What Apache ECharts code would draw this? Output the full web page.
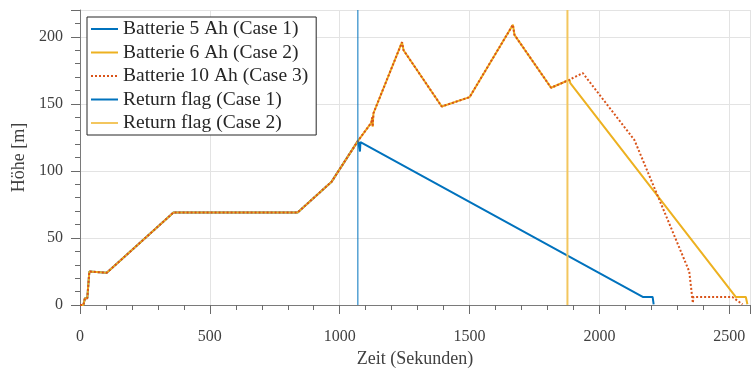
<!DOCTYPE html>
<html>
<head>
<meta charset="utf-8">
<script src="https://cdn.jsdelivr.net/npm/echarts@6/dist/echarts.min.js"></script>
<style>
  html, body { margin: 0; padding: 0; background: #fff; }
  #main { width: 751px; height: 372px; }
</style>
</head>
<body>
<div id="main"></div>
<script>
// shared climb profile (all cases fly the same path until the return)
const commonPath = [
  [0, 0], [13, 0], [19, 5], [28, 5], [36, 25], [40, 24], [103, 24],
  [360, 69], [838, 69], [969, 92], [1071, 122.6]
];
const afterCase1 = [[1078, 114.5], [1080, 121.5], [2167, 6], [2205, 6], [2209, 0.5]];
const sharedCase23 = [
  [1122, 136], [1125, 140], [1127, 133], [1130, 143], [1240, 196], [1246, 190],
  [1393, 148], [1500, 155], [1667, 209], [1673, 201.5], [1814, 162], [1885, 168]
];
const afterCase2 = [[1888, 165.4], [2525, 6], [2564, 6], [2570, 0.5]];
const afterCase3 = [[1936, 173], [2135, 123], [2346, 25], [2360, 1.5], [2362, 6], [2512, 6], [2551, 0.5]];
const flagCase1 = [[1070, 0], [1070, 220]];
const flagCase2 = [[1877, 0], [1877, 220]];

const case1 = commonPath.concat(afterCase1);
const case2 = commonPath.concat(sharedCase23, afterCase2);
const case3 = commonPath.concat(sharedCase23, afterCase3);

const colors = ['#0072BD', '#EDB120', '#D95319'];
const font = '"Liberation Serif", "DejaVu Serif", serif';

const chart = echarts.init(document.getElementById('main'));
const axisCommon = {
    type: 'value',
    axisLine: { show: true, onZero: false, lineStyle: { color: '#7a7a7a', width: 1 } },
    axisTick: { show: true, inside: false, length: 9, lineStyle: { color: '#6a6a6a' } },
    minorTick: { show: true, splitNumber: 5, length: 5, lineStyle: { color: '#6a6a6a' } },
    splitLine: { show: true, lineStyle: { color: '#e3e3e3' } },
    nameTextStyle: { fontFamily: font, fontSize: 18, color: '#404040' }
};
const option = {
    animation: false,
    grid: { left: 80, right: 1, top: 10, bottom: 67, outerBoundsMode: 'none', containLabel: false },
    legend: {
        orient: 'vertical',
        left: 87, top: 17,
        padding: [2, 8, 2, 3],
        itemGap: 3.5,
        itemWidth: 27, itemHeight: 14,
        backgroundColor: '#fff',
        borderColor: '#262626', borderWidth: 1,
        itemStyle: { opacity: 0 },
        textStyle: { fontFamily: font, fontSize: 19.5, color: '#262626' },
        data: ['Batterie 5 Ah (Case 1)', 'Batterie 6 Ah (Case 2)', 'Batterie 10 Ah (Case 3)',
               'Return flag (Case 1)', 'Return flag (Case 2)']
    },
    xAxis: Object.assign({}, axisCommon, {
        min: 0, max: 2580, interval: 500,
        name: 'Zeit (Sekunden)', nameLocation: 'middle', nameGap: 42,
        axisLabel: { fontFamily: font, fontSize: 16, color: '#404040', margin: 24,
                     showMaxLabel: false, formatter: v => String(v) }
    }),
    yAxis: Object.assign({}, axisCommon, {
        min: 0, max: 220, interval: 50,
        name: 'Höhe [m]', nameLocation: 'middle', nameGap: 52,
        axisLabel: { fontFamily: font, fontSize: 16, color: '#404040', margin: 17,
                     showMaxLabel: false, formatter: v => String(v) }
    }),
    series: [
        { name: 'Batterie 5 Ah (Case 1)', type: 'line', data: case1, showSymbol: false, symbol: 'none',
          lineStyle: { color: colors[0], width: 2 }, itemStyle: { color: colors[0] } },
        { name: 'Batterie 6 Ah (Case 2)', type: 'line', data: case2, showSymbol: false, symbol: 'none',
          lineStyle: { color: colors[1], width: 2 }, itemStyle: { color: colors[1] } },
        { name: 'Batterie 10 Ah (Case 3)', type: 'line', data: case3, showSymbol: false, symbol: 'none',
          lineStyle: { color: colors[2], width: 2, type: [2, 2] }, itemStyle: { color: colors[2] } },
        { name: 'Return flag (Case 1)', type: 'line', data: flagCase1, showSymbol: false, symbol: 'none',
          lineStyle: { color: colors[0], width: 1 }, itemStyle: { color: colors[0] } },
        { name: 'Return flag (Case 2)', type: 'line', data: flagCase2, showSymbol: false, symbol: 'none',
          lineStyle: { color: '#F3C65E', width: 2 }, itemStyle: { color: '#F3C65E' } }
    ]
};
chart.setOption(option);
</script>
</body>
</html>
